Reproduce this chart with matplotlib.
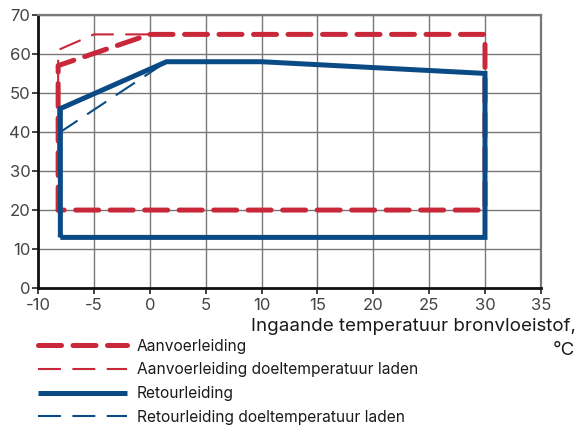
import matplotlib
matplotlib.use("Agg")
import matplotlib.pyplot as plt
from matplotlib.lines import Line2D

plt.rcParams["font.family"] = ["Inter", "DejaVu Sans"]

# --- data --------------------------------------------------------------
# supply line, working envelope
aanvoer_x = [-8.2, -8.2, 0.0, 30.0, 30.0, -8.2]
aanvoer_y = [20, 57, 65, 65, 20, 20]
# supply line, target temperature when charging
aanvoer_doel_x = [-8.2, -8.2, -5.0, 1.0]
aanvoer_doel_y = [35, 61, 65, 65]
# return line, working envelope
retour_x = [-8.0, -8.0, 1.5, 10.0, 30.0, 30.0, -8.0]
retour_y = [13, 46, 58, 58, 55, 13, 13]
# return line, target temperature when charging
retour_doel_x = [-8.0, -8.0, 1.5]
retour_doel_y = [13, 40, 58]

xticks = [-10, -5, 0, 5, 10, 15, 20, 25, 30, 35]
yticks = [0, 10, 20, 30, 40, 50, 60, 70]

labels = ["Aanvoerleiding",
          "Aanvoerleiding doeltemperatuur laden",
          "Retourleiding",
          "Retourleiding doeltemperatuur laden"]

RED = "#C9283A"
BLUE = "#0B4B85"

thick_dash = dict(color=RED, lw=3.6, ls=(0, (4.6, 2.3)), dash_capstyle="round",
                  solid_joinstyle="round")
thin_red = dict(color=RED, lw=1.5, ls=(0, (11, 5.5)))
thick_blue = dict(color=BLUE, lw=3.6, solid_capstyle="butt", solid_joinstyle="miter")
thin_blue = dict(color=BLUE, lw=1.5, ls=(0, (11, 5.5)))

fig = plt.figure(figsize=(5.76, 4.25), dpi=100)
ax = fig.add_axes([0.066, 0.322, 0.873, 0.643])

ax.plot(retour_doel_x, retour_doel_y, **thin_blue, zorder=3)
ax.plot(aanvoer_doel_x, aanvoer_doel_y, **thin_red, zorder=4)
ax.plot(aanvoer_x, aanvoer_y, **thick_dash, zorder=5)
ax.plot(retour_x, retour_y, **thick_blue, zorder=6)

ax.set_xlim(-10, 35)
ax.set_ylim(0, 70)
ax.set_xticks(xticks)
ax.set_yticks(yticks)
ax.set_xticklabels([str(t) for t in xticks])
ax.grid(True, color="#777777", lw=1.0)
ax.set_axisbelow(True)
ax.tick_params(labelsize=12, length=4, width=1.2, colors="#222222",
               labelcolor="#444444", pad=1.5)
ax.tick_params(axis="x", pad=3)
for s in ("left", "bottom"):
    ax.spines[s].set_linewidth(2.0)
    ax.spines[s].set_color("#111111")
for s in ("top", "right"):
    ax.spines[s].set_linewidth(1.6)
    ax.spines[s].set_color("#777777")

fig.text(0.999, 0.203, "Ingaande temperatuur bronvloeistof,\n°C",
         ha="right", va="center", fontsize=13.5, color="#1a1a1a",
         multialignment="right", linespacing=1.55)

handles = [
    Line2D([], [], **thick_dash),
    Line2D([], [], **thin_red),
    Line2D([], [], **thick_blue),
    Line2D([], [], **thin_blue),
]
fig.legend(handles, labels, loc="upper left", bbox_to_anchor=(0.052, 0.221),
           frameon=False, fontsize=11.2, handlelength=5.75, handletextpad=0.6,
           labelspacing=0.55, borderpad=0, labelcolor="#1a1a1a")

fig.savefig("out.png", dpi=100)
